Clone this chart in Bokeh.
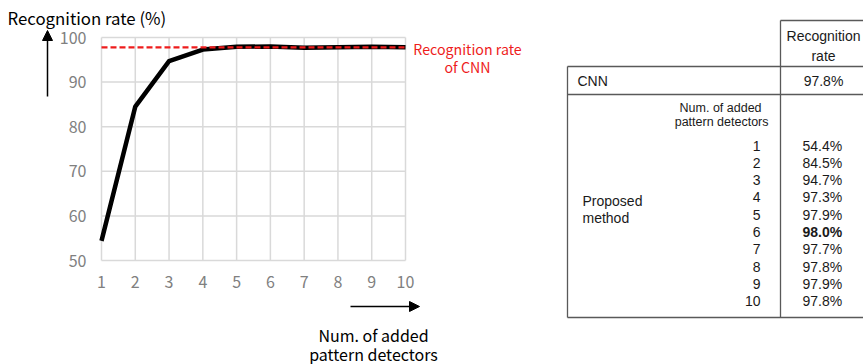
from bokeh.plotting import figure
from bokeh.models import Range1d, Label, Arrow, NormalHead, ColumnDataSource
from bokeh.layouts import row
from bokeh.embed import file_html
from bokeh.resources import INLINE
from bokeh.core.properties import value

# ---------------- data ----------------
detectors = [1, 2, 3, 4, 5, 6, 7, 8, 9, 10]
rates = [54.4, 84.5, 94.7, 97.3, 97.9, 98.0, 97.7, 97.8, 97.9, 97.8]
cnn_rate = 97.8
y_ticks = [50, 60, 70, 80, 90, 100]
x_ticks = detectors
y_title = "Recognition rate (%)"
x_title = ["Num. of added", "pattern detectors"]
cnn_note = ["Recognition rate", "of CNN"]
table_header = ["Recognition", "rate"]
table_sub = ["Num.  of  added", "pattern detectors"]
method_label = ["Proposed", "method"]
cnn_label = "CNN"
best_detector = 6

FONT = "Noto Sans CJK JP"
TFONT = "Liberation Sans"

# ---------------- layout (page px) ----------------
OX, OY = 0, 0          # where the figures start on the page
W1, W2, H = 563, 300, 364
X0, X1 = 101, 405      # plot area left / right
YT, YB = 37, 260       # plot area top / bottom
XMIN, XMAX = x_ticks[0], x_ticks[-1]
YMIN, YMAX = y_ticks[0], y_ticks[-1]


def dx(px):
    return XMIN + (px - X0) * (XMAX - XMIN) / (X1 - X0)


def dy(py):
    return YMAX - (py - YT) * (YMAX - YMIN) / (YB - YT)


p = figure(width=W1, height=H, x_range=Range1d(dx(OX), dx(OX + W1)), y_range=Range1d(dy(OY + H), dy(OY)),
           output_backend="svg", toolbar_location=None, min_border=0,
           x_axis_type=None, y_axis_type=None)
p.grid.visible = False
p.outline_line_color = None
p.background_fill_color = "white"
p.border_fill_color = "white"

GC = "#d9d9d9"
# grid (and plot-area border)
p.segment(x0=x_ticks, y0=[YMIN] * len(x_ticks), x1=x_ticks, y1=[YMAX] * len(x_ticks),
          line_color=GC, line_width=1.5)
p.segment(x0=[XMIN] * len(y_ticks), y0=y_ticks, x1=[XMAX] * len(y_ticks), y1=y_ticks,
          line_color=GC, line_width=1.5)

# tick labels
TC = "#808080"
p.text(x=x_ticks, y=[dy(281)] * len(x_ticks), text=[str(t) for t in x_ticks],
       text_align="center", text_baseline="middle", text_font=value(FONT),
       text_font_size="16px", text_color=TC)
p.text(x=[dx(86)] * len(y_ticks), y=y_ticks, text=[str(t) for t in y_ticks],
       text_align="right", text_baseline="middle", text_font=value(FONT),
       text_font_size="16px", text_color=TC)

src = ColumnDataSource(dict(x=detectors, y=rates))
p.line("x", "y", source=src, line_color="black", line_width=4.5, line_join="round")
p.line([XMIN, XMAX], [cnn_rate, cnn_rate], line_color="#ee1c1c", line_width=2.2, line_dash="6 3")

# titles and notes
p.add_layout(Label(x=dx(7), y=dy(17), text=y_title, text_font=FONT, text_font_size="16.8px",
                   text_align="left", text_baseline="middle", text_color="black"))
for i, t in enumerate(cnn_note):
    p.add_layout(Label(x=dx(467), y=dy(48 + 18 * i), text=t, text_font=FONT, text_font_size="14.2px",
                       text_align="center", text_baseline="middle", text_color="#ee1c1c"))
for i, t in enumerate(x_title):
    p.add_layout(Label(x=dx(373), y=dy(334 + 19 * i), text=t, text_font=FONT, text_font_size="16px",
                       text_align="center", text_baseline="middle", text_color="black"))

p.add_layout(Arrow(end=NormalHead(size=10, fill_color="black", line_color="black"),
                   x_start=dx(47), y_start=dy(96), x_end=dx(47), y_end=dy(30),
                   line_color="black", line_width=1.5))
p.add_layout(Arrow(end=NormalHead(size=10, fill_color="black", line_color="black"),
                   x_start=dx(350), y_start=dy(306), x_end=dx(419), y_end=dy(306),
                   line_color="black", line_width=1.5))

# ---------------- table ----------------
TX0 = OX + W1
q = figure(width=W2, height=H, x_range=Range1d(TX0, TX0 + W2), y_range=Range1d(OY + H, OY),
           output_backend="svg", toolbar_location=None, min_border=0,
           x_axis_type=None, y_axis_type=None)
q.grid.visible = False
q.outline_line_color = None
q.background_fill_color = "white"
q.border_fill_color = "white"

RIGHT = TX0 + W2 + 5
LC = "#595959"
q.segment(x0=[780, 567, 780, 567, 567, 567], y0=[20, 66, 20, 66, 94, 317],
          x1=[780, 567, RIGHT, RIGHT, RIGHT, RIGHT], y1=[317, 317, 20, 66, 94, 317],
          line_color=LC, line_width=1.3)

tkw = dict(text_font=value(TFONT), text_baseline="middle", text_color="#1a1a1a")
q.text(x=[823, 823], y=[35, 55], text=table_header, text_align="center", text_font_size="14px", **tkw)
q.text(x=[577], y=[80], text=[cnn_label], text_align="left", text_font_size="14px", **tkw)
q.text(x=[823], y=[80], text=[f"{cnn_rate:.1f}%"], text_align="center", text_font_size="14px", **tkw)
q.text(x=[768, 768], y=[107, 121], text=table_sub, text_align="right", text_font_size="12.5px", **tkw)
q.text(x=[582, 582], y=[200, 217], text=method_label, text_align="left", text_font_size="14px", **tkw)

row_y = [145 + 17.33 * i for i in range(len(detectors))]
q.text(x=[760] * len(detectors), y=row_y, text=[str(d) for d in detectors],
       text_align="right", text_font_size="14px", **tkw)
norm = [i for i, d in enumerate(detectors) if d != best_detector]
bold = [i for i, d in enumerate(detectors) if d == best_detector]
q.text(x=[802] * len(norm), y=[row_y[i] for i in norm], text=[f"{rates[i]:.1f}%" for i in norm],
       text_align="left", text_font_size="14px", **tkw)
q.text(x=[802] * len(bold), y=[row_y[i] for i in bold], text=[f"{rates[i]:.1f}%" for i in bold],
       text_align="left", text_font_size="14px", text_font_style="bold", **tkw)

layout = row(p, q)
open("out.html", "w").write(file_html(layout, INLINE))
